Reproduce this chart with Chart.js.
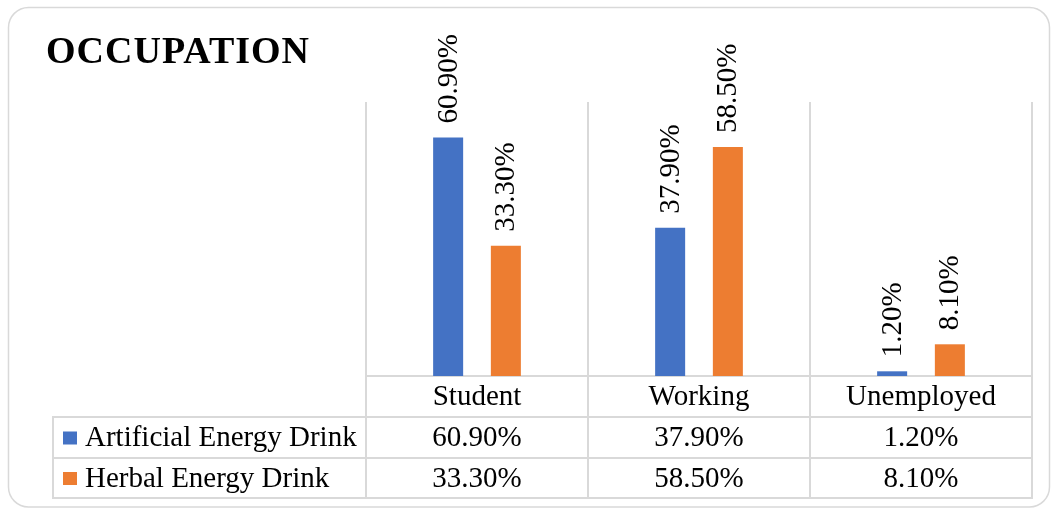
<!DOCTYPE html>
<html><head><meta charset="utf-8">
<script src="https://cdn.jsdelivr.net/npm/chart.js@4.4.1/dist/chart.umd.min.js"></script>
<style>html,body{margin:0;padding:0;background:#fff;}#wrap{width:1052px;height:508px;}</style>
</head><body><div id="wrap"><canvas id="c" width="1052" height="508"></canvas></div>
<script>
const chartTitle = 'OCCUPATION';
const categories = ['Student', 'Working', 'Unemployed'];
const seriesNames = ['Artificial Energy Drink', 'Herbal Energy Drink'];
const artificialValues = [60.9, 37.9, 1.2];
const herbalValues = [33.3, 58.5, 8.1];
const seriesColors = ['#4472C4', '#ED7D31'];
const yMax = 70;

const FONT = '"Liberation Serif","Times New Roman",serif';
const LINE = '#d9d9d9';
const fmt = v => v.toFixed(2) + '%';

const deco = {
  id: 'deco',
  beforeDraw(chart) {
    const ctx = chart.ctx;
    ctx.save();
    ctx.fillStyle = '#fff';
    ctx.fillRect(0, 0, chart.width, chart.height);
    ctx.strokeStyle = LINE;
    ctx.lineWidth = 1.5;
    ctx.beginPath();
    ctx.roundRect(8.5, 7.5, 1041, 499.5, 20);
    ctx.stroke();
    ctx.fillStyle = '#000';
    ctx.font = 'bold 38px ' + FONT;
    ctx.letterSpacing = '1px';
    ctx.textBaseline = 'alphabetic';
    ctx.textAlign = 'left';
    ctx.fillText(chartTitle, 46, 63);
    ctx.restore();
  },
  afterDatasetsDraw(chart) {
    const ctx = chart.ctx;
    ctx.save();
    ctx.fillStyle = '#000';
    ctx.font = '29px ' + FONT;
    chart.data.datasets.forEach((ds, di) => {
      const meta = chart.getDatasetMeta(di);
      meta.data.forEach((bar, i) => {
        ctx.save();
        ctx.translate(bar.x + 1, bar.y - 14);
        ctx.rotate(-Math.PI / 2);
        ctx.textAlign = 'left';
        ctx.textBaseline = 'middle';
        ctx.fillText(fmt(ds.data[i]), 0, 0);
        ctx.restore();
      });
    });
    ctx.restore();
  },
  afterDraw(chart) {
    const ctx = chart.ctx;
    const xs = chart.scales.x;
    const right = chart.chartArea.right;
    const rows = [[417, 458], [458, 498]];
    ctx.save();
    ctx.strokeStyle = LINE;
    ctx.lineWidth = 2;
    ctx.beginPath();
    [417, 458, 498].forEach(y => { ctx.moveTo(53, y); ctx.lineTo(right + 1, y); });
    ctx.moveTo(53, 416); ctx.lineTo(53, 499);
    ctx.stroke();
    ctx.font = '29px ' + FONT;
    ctx.textBaseline = 'middle';
    chart.data.datasets.forEach((ds, di) => {
      const cy = (rows[di][0] + rows[di][1]) / 2 + 1;
      ctx.fillStyle = ds.backgroundColor;
      ctx.fillRect(63, cy - 7, 14, 13);
      ctx.fillStyle = '#000';
      ctx.textAlign = 'left';
      ctx.fillText(ds.label, 85, cy);
      ctx.textAlign = 'center';
      ds.data.forEach((v, i) => {
        ctx.fillText(fmt(v), xs.getPixelForValue(i), cy);
      });
    });
    ctx.restore();
  }
};

new Chart(document.getElementById('c'), {
  type: 'bar',
  data: {
    labels: categories,
    datasets: [
      { label: seriesNames[0], data: artificialValues, backgroundColor: seriesColors[0] },
      { label: seriesNames[1], data: herbalValues, backgroundColor: seriesColors[1] }
    ]
  },
  options: {
    responsive: false,
    devicePixelRatio: 1,
    animation: false,
    categoryPercentage: 0.52,
    barPercentage: 0.52,
    layout: { padding: { left: 366, right: 20, top: 102, bottom: 0 } },
    plugins: { legend: { display: false }, tooltip: { enabled: false }, title: { display: false } },
    scales: {
      x: {
        offset: true,
        grid: { offset: true, color: LINE, lineWidth: 2, drawTicks: true, tickLength: 123, tickColor: LINE, tickWidth: 2 },
        border: { display: true, color: LINE, width: 2 },
        ticks: { color: '#000', font: { family: FONT, size: 29 }, padding: -119, maxRotation: 0, autoSkip: false },
        afterFit: s => { s.height = 132; }
      },
      y: { display: false, min: 0, max: yMax }
    }
  },
  plugins: [deco]
});
</script>
</body></html>
